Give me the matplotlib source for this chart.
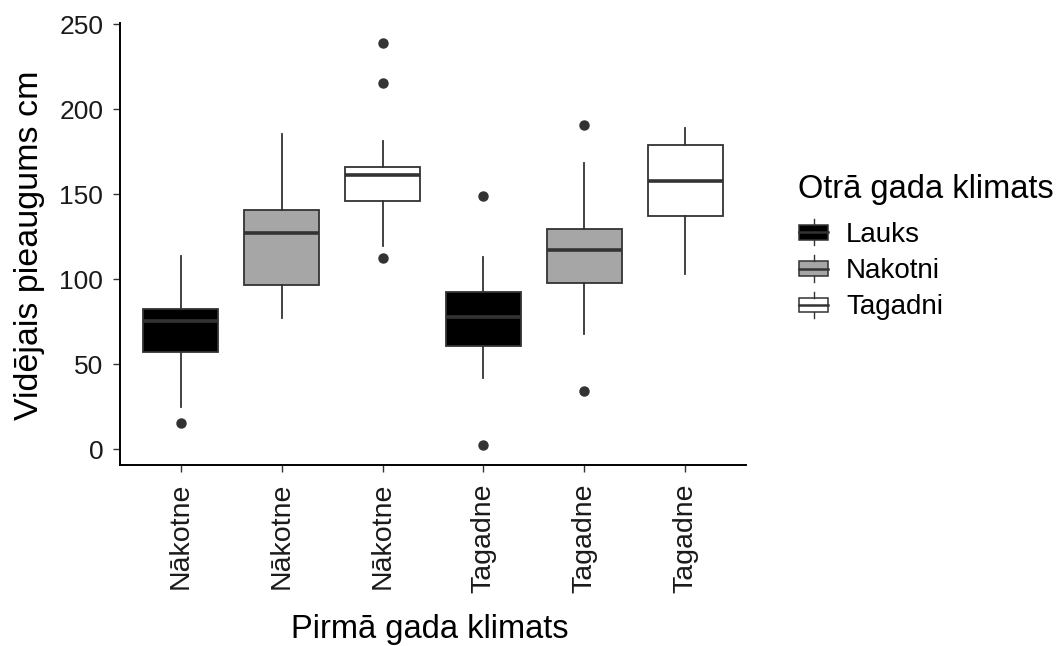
import matplotlib
matplotlib.use('Agg')
import matplotlib.pyplot as plt
from matplotlib.patches import Rectangle
from matplotlib.lines import Line2D
from matplotlib.legend_handler import HandlerBase

plt.rcParams['font.family'] = ['Liberation Sans', 'DejaVu Sans']

# dati nolasīti no attēla
first_year = ['Nākotne', 'Nākotne', 'Nākotne', 'Tagadne', 'Tagadne', 'Tagadne']
second_year = ['Lauks', 'Nakotni', 'Tagadni', 'Lauks', 'Nakotni', 'Tagadni']
whisker_low = [24.5, 76.9, 119.6, 41.6, 67.6, 102.8]
q1 = [56.9, 96.5, 145.7, 60.8, 97.5, 136.9]
median = [75.5, 126.9, 161.4, 77.8, 117.2, 157.8]
q3 = [82.4, 140.6, 166.1, 92.2, 129.4, 178.8]
whisker_high = [113.7, 185.3, 181.0, 112.8, 168.2, 188.8]
outliers = [[15.1], [], [112.4, 215.1, 238.8], [2.4, 148.8], [34.3, 190.6], []]

legend_levels = ['Lauks', 'Nakotni', 'Tagadni']
fill_colors = {'Lauks': '#000000', 'Nakotni': '#a6a6a6', 'Tagadni': '#ffffff'}
line_col = '#333333'


# leģendas atslēga kā mazs boxplot
class BoxKeyHandler(HandlerBase):
    def create_artists(self, legend, orig_handle, xdescent, ydescent,
                       width, height, fontsize, trans):
        x0, y0 = -xdescent, -ydescent
        cx = x0 + width / 2
        rect = Rectangle((x0, y0 + height * 0.22), width, height * 0.56,
                         facecolor=orig_handle.get_facecolor(),
                         edgecolor=line_col, linewidth=1.1, transform=trans)
        w1 = Line2D([cx, cx], [y0, y0 + height * 0.22], color=line_col, lw=1.0, transform=trans)
        w2 = Line2D([cx, cx], [y0 + height * 0.78, y0 + height], color=line_col, lw=1.0, transform=trans)
        med = Line2D([x0, x0 + width], [y0 + height / 2] * 2, color=line_col, lw=1.8, transform=trans)
        return [rect, w1, w2, med]


fig = plt.figure(figsize=(10.63, 6.46), dpi=100)
ax = fig.add_axes([120 / 1063, 1 - 465 / 646, 626 / 1063, 442 / 646])

positions = list(range(1, len(first_year) + 1))
stats = []
for i in range(len(first_year)):
    stats.append(dict(med=median[i], q1=q1[i], q3=q3[i],
                      whislo=whisker_low[i], whishi=whisker_high[i],
                      fliers=outliers[i]))

bp = ax.bxp(stats, positions=positions, widths=0.75, patch_artist=True,
            showcaps=False,
            boxprops=dict(edgecolor=line_col, linewidth=1.3),
            medianprops=dict(color=line_col, linewidth=2.6, solid_capstyle='butt'),
            whiskerprops=dict(color=line_col, linewidth=1.3),
            flierprops=dict(marker='o', markerfacecolor=line_col,
                            markeredgecolor=line_col, markersize=6.5))
for patch, grp in zip(bp['boxes'], second_year):
    patch.set_facecolor(fill_colors[grp])

ax.set_xlim(0.4, 6.6)
ax.set_ylim(-9.4, 250.6)
ax.set_yticks([0, 50, 100, 150, 200, 250])
ax.set_xticks(positions)
ax.set_xticklabels(first_year, rotation=90, fontsize=20.5, color='#1a1a1a')
ax.tick_params(axis='y', labelsize=19, labelcolor='#1a1a1a', pad=7)
ax.tick_params(axis='x', pad=8)
ax.tick_params(length=5, width=1, color=line_col)

for s in ['top', 'right']:
    ax.spines[s].set_visible(False)
for s in ['left', 'bottom']:
    ax.spines[s].set_linewidth(1.4)
    ax.spines[s].set_color('black')

ax.set_xlabel('Pirmā gada klimats', fontsize=23.5, va='baseline')
ax.xaxis.set_label_coords(430 / 1063, 1 - 638 / 646, transform=fig.transFigure)
ax.set_ylabel('Vidējais pieaugums cm', fontsize=24.5, va='center')
ax.yaxis.set_label_coords(30 / 1063, 1 - 245 / 646, transform=fig.transFigure)

# leģendas virsraksts atsevišķi, lai kontrolētu atstarpi
fig.text(798 / 1063, 1 - 198 / 646, 'Otrā gada klimats', fontsize=23.5,
         ha='left', va='baseline')

handles = [Rectangle((0, 0), 1, 1, facecolor=fill_colors[k]) for k in legend_levels]
leg = fig.legend(handles, legend_levels,
                 handler_map={Rectangle: BoxKeyHandler()},
                 loc='upper left', bbox_to_anchor=(799 / 1063, 1 - 219 / 646),
                 frameon=False, fontsize=20,
                 handlelength=1.05, handleheight=1.08, handletextpad=0.65,
                 labelspacing=0.28, borderpad=0, borderaxespad=0)

fig.savefig('out.png', dpi=100)
